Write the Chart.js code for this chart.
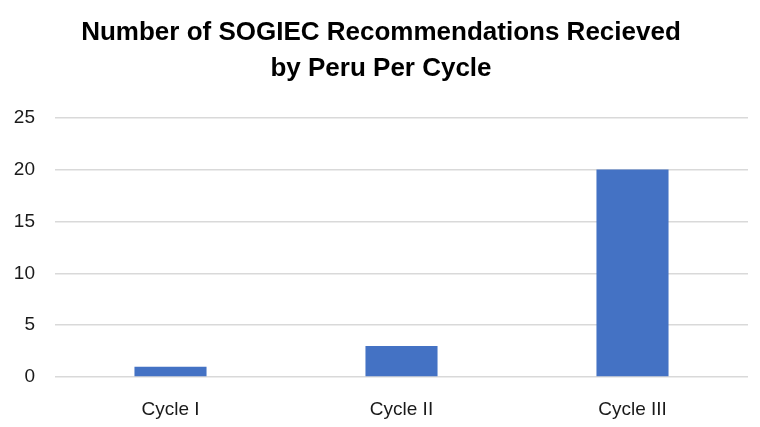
<!DOCTYPE html>
<html>
<head>
<meta charset="utf-8">
<script src="https://cdn.jsdelivr.net/npm/chart.js@4/dist/chart.umd.min.js"></script>
<style>
  html, body { margin: 0; padding: 0; background: #fff; }
  #wrap { width: 760px; height: 427px; }
</style>
</head>
<body>
<div id="wrap"><canvas id="barGraph" width="760" height="427"></canvas></div>
<script>
var labels = ['Cycle I', 'Cycle II', 'Cycle III'];
var recommendations = [1, 3, 20];
var yTicks = [0, 5, 10, 15, 20, 25];

var data = {
  labels: labels,
  datasets: [{
    label: 'Recommendations',
    backgroundColor: '#4472c4',
    data: recommendations,
    categoryPercentage: 0.312,
    barPercentage: 1
  }]
};

const config = {
  type: 'bar',
  data: data,
  options: {
    responsive: false,
    animation: false,
    layout: { padding: { left: 14, right: 12, top: 15, bottom: 0 } },
    plugins: {
      legend: { display: false },
      tooltip: { enabled: false },
      title: {
        display: true,
        text: ['Number of SOGIEC Recommendations Recieved', 'by Peru Per Cycle'],
        color: '#000',
        font: { family: '"Liberation Sans", Arial', size: 26, weight: 'bold', lineHeight: 1.38 },
        padding: { top: 0, bottom: 31 }
      }
    },
    scales: {
      x: {
        grid: { display: false },
        border: { display: false },
        ticks: { color: '#1a1a1a', font: { family: '"Liberation Sans", Arial', size: 19 }, padding: 13 },
        afterFit: function (scale) { scale.height = 50; }
      },
      y: {
        min: 0,
        max: 25,
        afterBuildTicks: function (axis) { axis.ticks = yTicks.map(function (v) { return { value: v }; }); },
        grid: { color: '#d9d9d9', lineWidth: 1.5, drawTicks: false },
        border: { display: false },
        ticks: { color: '#1a1a1a', font: { family: '"Liberation Sans", Arial', size: 19 }, padding: 20 },
        afterFit: function (scale) { scale.width = 41; }
      }
    }
  }
};

const myChart = new Chart(document.getElementById('barGraph'), config);
</script>
</body>
</html>
